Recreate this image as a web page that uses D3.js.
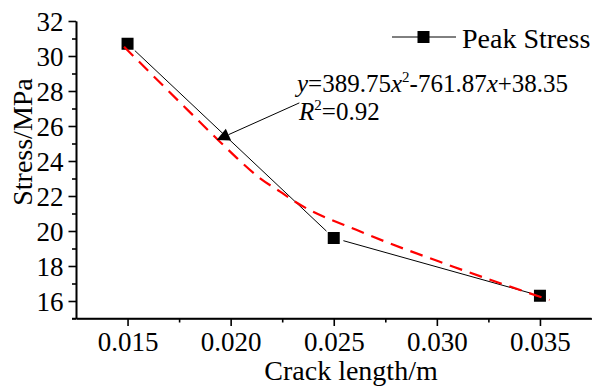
<!DOCTYPE html>
<html>
<head>
<meta charset="utf-8">
<script src="https://cdn.jsdelivr.net/npm/d3@7"></script>
<style>
  html, body { margin: 0; padding: 0; background: #fff; }
</style>
</head>
<body>
<svg id="chart" width="595" height="387"></svg>
<script>
// ---- data ----
const crackLength = [0.015, 0.025, 0.035];
const peakStress = [30.7, 19.6, 16.3];
// fitted quadratic curve (red dashed)
const fitX = [0.01483, 0.01755, 0.01949, 0.02032, 0.02143, 0.0224, 0.02313, 0.02629, 0.0308, 0.03546];
const fitY = [30.53, 27.34, 25.09, 24.15, 23.01, 22.25, 21.67, 19.97, 17.96, 16.06];
const xTickValues = [0.015, 0.020, 0.025, 0.030, 0.035];
const xTickLabels = ["0.015", "0.020", "0.025", "0.030", "0.035"];
const xMinorTicks = [0.0175, 0.0225, 0.0275, 0.0325];
const yTickValues = [16, 18, 20, 22, 24, 26, 28, 30, 32];
const yMinorTicks = [15, 17, 19, 21, 23, 25, 27, 29, 31];
const legendLabel = "Peak Stress";
const xTitle = "Crack length/m";
const yTitle = "Stress/MPa";
// annotation arrow (data coords): tip and tail
const arrowTip = [0.01932, 25.2];
const arrowTail = [0.02333, 27.32];

// ---- layout ----
const FONT = "Liberation Serif";
const svg = d3.select("#chart").attr("font-family", FONT);
const x = d3.scaleLinear().domain([0.0125, 0.0375]).range([76, 591.5]);
const y = d3.scaleLinear().domain([15, 32]).range([318.5, 21]);
const FS = 27, FT = 28;

function txt(sel) { return sel.attr("font-family", FONT).style("font-family", FONT).attr("fill", "#000"); }

// axes
const xAxis = d3.axisBottom(x).tickValues(xTickValues)
  .tickFormat((d, i) => xTickLabels[i]).tickSize(7.5).tickPadding(6).tickSizeOuter(0);
const xMinor = d3.axisBottom(x).tickValues(xMinorTicks).tickFormat("").tickSize(4).tickSizeOuter(0);
const yAxis = d3.axisLeft(y).tickValues(yTickValues).tickFormat(d3.format("d"))
  .tickSize(7.5).tickPadding(5).tickSizeOuter(0);
const yMinor = d3.axisLeft(y).tickValues(yMinorTicks).tickFormat("").tickSize(4).tickSizeOuter(0);

function styleAxis(g) {
  g.attr("font-family", FONT).attr("font-size", FS);
  g.selectAll("path.domain").attr("stroke", "#000").attr("stroke-width", 1.6);
  g.selectAll(".tick line").attr("stroke", "#000").attr("stroke-width", 1.6);
  g.selectAll(".tick text").call(txt).attr("font-size", FS);
}

const gx = svg.append("g").attr("transform", `translate(0,${y(15)})`).call(xAxis).call(styleAxis);
gx.selectAll(".tick text").attr("dy", "0.71em");
svg.append("g").attr("transform", `translate(0,${y(15)})`).call(xMinor).call(styleAxis);
gx.select("path.domain").attr("d", `M${x(0.0125) - 4},0H${x(0.0375)}`);

const gy = svg.append("g").attr("transform", `translate(${x(0.0125)},0)`).call(yAxis).call(styleAxis);
gy.selectAll(".tick text").attr("dy", "0.34em");
svg.append("g").attr("transform", `translate(${x(0.0125)},0)`).call(yMinor).call(styleAxis);

// axis titles
svg.append("text").call(txt).attr("x", 351).attr("y", 380).attr("text-anchor", "middle")
  .attr("font-size", FT).text(xTitle);
svg.append("text").call(txt).attr("transform", "translate(32,142) rotate(-90)").attr("text-anchor", "middle")
  .attr("font-size", FT).text(yTitle);

// data line (black), with small gaps at the markers
const data = crackLength.map((d, i) => [d, peakStress[i]]);
const gap = 10;
const segs = d3.pairs(data).map(([a, b]) => {
  const x1 = x(a[0]), y1 = y(a[1]), x2 = x(b[0]), y2 = y(b[1]);
  const L = Math.hypot(x2 - x1, y2 - y1), dx = (x2 - x1) / L, dy = (y2 - y1) / L;
  return [x1 + dx * gap, y1 + dy * gap, x2 - dx * gap, y2 - dy * gap];
});
svg.selectAll("line.seg").data(segs).enter().append("line").attr("class", "seg")
  .attr("x1", d => d[0]).attr("y1", d => d[1]).attr("x2", d => d[2]).attr("y2", d => d[3])
  .attr("stroke", "#000").attr("stroke-width", 1);

// markers
svg.selectAll("rect.pt").data(data).enter().append("rect").attr("class", "pt")
  .attr("x", d => x(d[0]) - 6).attr("y", d => y(d[1]) - 6)
  .attr("width", 12).attr("height", 12).attr("fill", "#000");

// fitted curve (red dashed)
const fitData = fitX.map((d, i) => [d, fitY[i]]);
svg.append("path").datum(fitData)
  .attr("d", d3.line().x(d => x(d[0])).y(d => y(d[1])).curve(d3.curveMonotoneX))
  .attr("fill", "none").attr("stroke", "#ff0000").attr("stroke-width", 2.2)
  .attr("stroke-dasharray", "13,8");

// annotation arrow
const tx = x(arrowTip[0]), ty = y(arrowTip[1]);
const sx = x(arrowTail[0]), sy = y(arrowTail[1]);
const len = Math.hypot(sx - tx, sy - ty);
const ux = (sx - tx) / len, uy = (sy - ty) / len;
const headL = 13, headW = 6.5;
const bx = tx + ux * headL, by = ty + uy * headL;
svg.append("line").attr("x1", sx).attr("y1", sy).attr("x2", bx).attr("y2", by)
  .attr("stroke", "#000").attr("stroke-width", 1);
svg.append("path")
  .attr("d", `M${tx},${ty}L${bx - uy * headW},${by + ux * headW}L${bx + uy * headW},${by - ux * headW}Z`)
  .attr("fill", "#000");

// equation text
const EF = 25;
const eq = svg.append("text").call(txt).attr("x", 297).attr("y", 92).attr("font-size", EF);
eq.append("tspan").attr("font-style", "italic").text("y");
eq.append("tspan").text("=389.75");
eq.append("tspan").attr("font-style", "italic").text("x");
eq.append("tspan").attr("dy", -10).attr("font-size", 15).text("2");
eq.append("tspan").attr("dy", 10).text("-761.87");
eq.append("tspan").attr("font-style", "italic").text("x");
eq.append("tspan").text("+38.35");

const r2 = svg.append("text").call(txt).attr("x", 299).attr("y", 120).attr("font-size", EF);
r2.append("tspan").attr("font-style", "italic").text("R");
r2.append("tspan").attr("dy", -10).attr("font-size", 15).text("2");
r2.append("tspan").attr("dy", 10).text("=0.92");

// legend
const lg = svg.append("g");
const ly = 37;
lg.append("line").attr("x1", 392).attr("x2", 456).attr("y1", ly).attr("y2", ly)
  .attr("stroke", "#000").attr("stroke-width", 1);
lg.append("rect").attr("x", 423.5 - 6).attr("y", ly - 6).attr("width", 12).attr("height", 12).attr("fill", "#000");
lg.append("text").call(txt).attr("x", 462).attr("y", 47.5).attr("font-size", FT).text(legendLabel);
</script>
</body>
</html>
